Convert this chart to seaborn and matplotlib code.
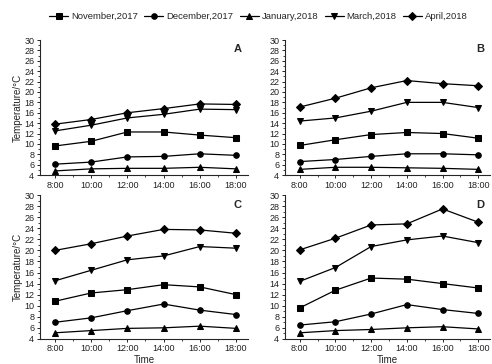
import numpy as np
import pandas as pd
import seaborn as sns
import matplotlib.pyplot as plt
from matplotlib.ticker import MultipleLocator, FixedLocator

hours = [8, 10, 12, 14, 16, 18]
hour_labels = ["8:00", "10:00", "12:00", "14:00", "16:00", "18:00"]
months = ["November,2017", "December,2017", "January,2018", "March,2018", "April,2018"]
panels = ["A", "B", "C", "D"]

# temperatures per panel, same order as months
temp_A = {
    "November,2017": [9.6, 10.5, 12.3, 12.3, 11.7, 11.2],
    "December,2017": [6.1, 6.5, 7.5, 7.6, 8.1, 7.8],
    "January,2018": [4.8, 5.2, 5.3, 5.3, 5.5, 5.2],
    "March,2018": [12.5, 13.6, 15.0, 15.7, 16.7, 16.6],
    "April,2018": [13.8, 14.7, 16.0, 16.8, 17.7, 17.6],
}
temp_B = {
    "November,2017": [9.7, 10.8, 11.8, 12.2, 12.0, 11.1],
    "December,2017": [6.6, 7.0, 7.6, 8.1, 8.1, 7.9],
    "January,2018": [5.1, 5.5, 5.5, 5.4, 5.3, 5.1],
    "March,2018": [14.4, 15.0, 16.3, 18.0, 18.0, 17.0],
    "April,2018": [17.1, 18.8, 20.8, 22.2, 21.6, 21.2],
}
temp_C = {
    "November,2017": [10.8, 12.3, 12.9, 13.8, 13.4, 12.0],
    "December,2017": [7.0, 7.8, 9.1, 10.3, 9.2, 8.4],
    "January,2018": [5.1, 5.5, 5.9, 6.0, 6.3, 5.9],
    "March,2018": [14.5, 16.4, 18.3, 19.0, 20.7, 20.4],
    "April,2018": [20.0, 21.2, 22.6, 23.8, 23.7, 23.1],
}
temp_D = {
    "November,2017": [9.6, 12.8, 15.0, 14.8, 14.0, 13.2],
    "December,2017": [6.5, 7.1, 8.5, 10.2, 9.3, 8.6],
    "January,2018": [5.1, 5.5, 5.7, 6.0, 6.2, 5.8],
    "March,2018": [14.4, 16.9, 20.7, 21.9, 22.6, 21.4],
    "April,2018": [20.1, 22.2, 24.6, 24.8, 27.5, 25.1],
}
all_temps = [temp_A, temp_B, temp_C, temp_D]

markers = {
    "November,2017": "s",
    "December,2017": "o",
    "January,2018": "^",
    "March,2018": "v",
    "April,2018": "D",
}

sns.set_style("ticks")
plt.rcParams['font.family'] = ['Liberation Sans', 'DejaVu Sans']
plt.rcParams['xtick.major.size'] = 2.5
plt.rcParams['ytick.major.size'] = 2.5
plt.rcParams['xtick.minor.size'] = 1.5
plt.rcParams['ytick.minor.size'] = 1.5
plt.rcParams['axes.linewidth'] = 0.8

fig = plt.figure(figsize=(4.92, 3.64), dpi=100)
boxes = [
    [0.081, 0.519, 0.423, 0.371],
    [0.579, 0.519, 0.417, 0.371],
    [0.081, 0.069, 0.423, 0.395],
    [0.579, 0.069, 0.417, 0.395],
]

for i, (name, temps) in enumerate(zip(panels, all_temps)):
    rows = []
    for m in months:
        for h, v in zip(hours, temps[m]):
            rows.append({"hour": h, "temp": v, "month": m})
    df = pd.DataFrame(rows)
    ax = fig.add_axes(boxes[i])
    sns.lineplot(data=df, x="hour", y="temp", style="month", style_order=months,
                 markers=markers, dashes=False, color="black", linewidth=0.9,
                 markersize=4, markeredgecolor="black", ax=ax, legend=(i == 0))
    ax.set_xlim(7.17, 18.66)
    ax.set_ylim(4, 30)
    ax.xaxis.set_major_locator(FixedLocator(hours))
    ax.set_xticklabels(hour_labels)
    ax.xaxis.set_minor_locator(MultipleLocator(1))
    ax.yaxis.set_major_locator(MultipleLocator(2))
    ax.yaxis.set_minor_locator(MultipleLocator(1))
    ax.tick_params(labelsize=6.5, pad=1.5, width=0.7, labelcolor="#222222")
    ax.tick_params(which="minor", width=0.6)
    sns.despine(ax=ax)
    ax.text(0.97, 0.93, name, transform=ax.transAxes, ha="right", va="center",
            fontsize=8, fontweight="bold")
    if i % 2 == 0:
        ax.set_ylabel("Temperature/°C", fontsize=7, labelpad=1, color="#222222")
    else:
        ax.set_ylabel("")
    if i >= 2:
        ax.set_xlabel("Time", fontsize=7, labelpad=1, color="#222222")
    else:
        ax.set_xlabel("")
    if i == 0:
        handles, labels = ax.get_legend_handles_labels()
        ax.get_legend().remove()
        fig.legend(handles, labels, loc="center", bbox_to_anchor=(0.525, 0.955),
                   ncol=5, frameon=False, fontsize=6.8, handlelength=2.0,
                   handletextpad=0.3, columnspacing=0.7)

fig.savefig("out.png", dpi=100)
